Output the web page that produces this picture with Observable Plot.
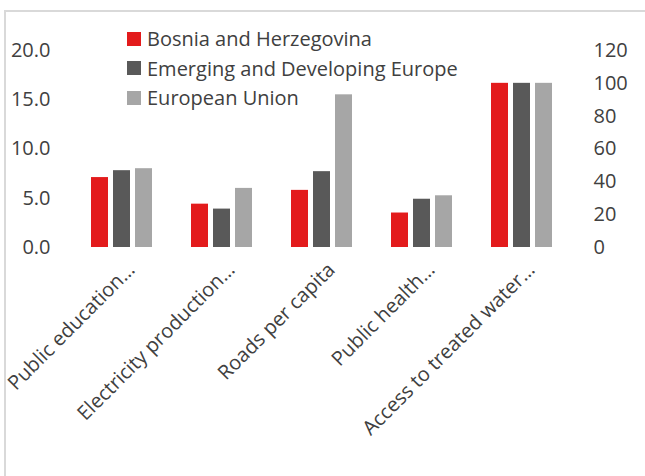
<!DOCTYPE html>
<html>
<head>
<meta charset="utf-8">
<script src="https://cdn.jsdelivr.net/npm/d3@7"></script>
<script src="https://cdn.jsdelivr.net/npm/@observablehq/plot@0.6"></script>
<style>
  html, body { margin: 0; padding: 0; background: #fff; }
  #wrap { position: relative; width: 645px; height: 476px; overflow: hidden; font-family: "Open Sans", sans-serif; }
  #frame { position: absolute; left: 4px; top: 10px; width: 700px; height: 500px; border-left: 2px solid #d9d9d9; border-top: 2px solid #d9d9d9; box-sizing: border-box; }
  #chart { position: absolute; left: 0; top: 0; }
  #legend { position: absolute; left: 127px; top: 24px; font-size: 20px; color: #404040; }
  .row { display: flex; align-items: center; height: 29.5px; white-space: nowrap; }
  .sw { width: 14px; height: 14px; margin-right: 6px; flex: none; }
</style>
</head>
<body>
<div id="wrap">
  <div id="frame"></div>
  <div id="chart"></div>
  <div id="legend"></div>
</div>
<script>
const categories = ["Public education…", "Electricity production…", "Roads per capita", "Public health…", "Access to treated water…"];
const series = ["Bosnia and Herzegovina", "Emerging and Developing Europe", "European Union"];
const colors = ["#e31b1c", "#595959", "#a6a6a6"];
const bosnia   = [7.1, 4.4, 5.8, 3.5, 100];
const emerging = [7.8, 3.9, 7.7, 4.9, 100];
const eu       = [8.0, 6.0, 15.5, 5.25, 100];
const leftTicks = [0, 5, 10, 15, 20];
const rightTicks = [0, 20, 40, 60, 80, 100, 120];
const rightAxisCategories = ["Access to treated water…"];

const leftMax = 20, rightMax = 120;
const ratio = rightMax / leftMax;
const seriesValues = [bosnia, emerging, eu];
const data = categories.flatMap((c, i) => series.map((s, j) => ({
  category: c, series: s,
  value: rightAxisCategories.includes(c) ? seriesValues[j][i] / ratio : seriesValues[j][i]
})));

const chart = Plot.plot({
  width: 645, height: 476,
  marginLeft: 71, marginRight: 74, marginTop: 50, marginBottom: 229,
  style: { fontFamily: "Open Sans, sans-serif", fontSize: "20px", color: "#404040", background: "transparent" },
  fx: { domain: categories, padding: 0, label: null },
  x: { domain: series, paddingInner: 0.24, paddingOuter: 0.84, axis: null },
  y: { domain: [0, leftMax], axis: null },
  color: { domain: series, range: colors },
  marks: [
    Plot.barY(data, { fx: "category", x: "series", y: "value", fill: "series" }),
    Plot.axisY({ ticks: leftTicks, tickFormat: d => d.toFixed(1), anchor: "left", tickSize: 0, tickPadding: 21, label: null, fill: "#404040" }),
    Plot.axisY({ ticks: rightTicks.map(v => v / ratio), tickFormat: d => String(Math.round(d * ratio)), anchor: "right", tickSize: 0, tickPadding: 22, label: null, fill: "#404040" }),
    Plot.axisFx({ anchor: "bottom", tickRotate: -45, tickSize: 0, tickPadding: 19, dx: 10, label: null, fill: "#404040" })
  ]
});
document.getElementById("chart").appendChild(chart);

const legend = document.getElementById("legend");
series.forEach((s, i) => {
  const row = document.createElement("div");
  row.className = "row";
  row.innerHTML = `<span class="sw" style="background:${colors[i]}"></span><span>${s}</span>`;
  legend.appendChild(row);
});
</script>
</body>
</html>
